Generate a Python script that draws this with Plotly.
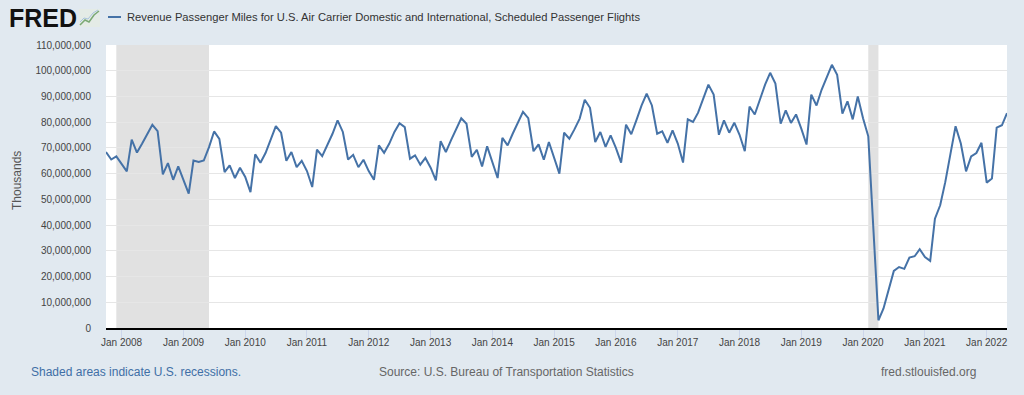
import pandas as pd
import plotly.graph_objects as go

# ---------------- data (monthly, Oct 2007 - May 2022), values in millions of "Thousands" units
start_month = "2007-10-01"
rpm_millions = [
    # 2007 Oct-Dec
    68.4, 65.5, 66.7,
    # 2008
    63.6, 60.9, 73.2, 68.2, 71.6, 75.2, 79.0, 76.5, 59.7, 64.1, 57.6, 62.8,
    # 2009
    57.6, 52.2, 65.1, 64.5, 65.1, 70.3, 76.4, 73.5, 60.6, 63.2, 58.3, 62.3,
    # 2010
    58.7, 52.8, 67.5, 64.2, 68.0, 73.5, 78.5, 75.9, 65.0, 68.4, 62.5, 65.0,
    # 2011
    61.0, 54.8, 69.3, 66.8, 71.0, 75.5, 80.7, 76.2, 65.5, 67.3, 62.5, 65.4,
    # 2012
    61.0, 57.6, 71.0, 68.1, 71.6, 76.2, 79.6, 78.1, 65.8, 67.1, 63.5, 66.1,
    # 2013
    62.3, 57.4, 72.6, 68.4, 72.9, 77.5, 81.5, 79.4, 66.5, 69.3, 62.8, 70.6,
    # 2014
    64.5, 58.3, 73.9, 71.0, 75.5, 79.7, 84.0, 81.6, 68.7, 71.4, 65.4, 72.3,
    # 2015
    66.0, 60.0, 75.9, 73.6, 77.2, 81.4, 88.7, 85.6, 72.3, 76.2, 70.4, 74.9,
    # 2016
    70.0, 64.3, 79.0, 75.3, 80.7, 86.5, 91.1, 86.5, 75.5, 76.4, 72.0, 76.8,
    # 2017
    71.7, 64.3, 81.1, 80.1, 83.7, 89.0, 94.6, 90.7, 75.1, 80.7, 75.9, 79.8,
    # 2018
    75.1, 68.7, 86.1, 83.0, 88.5, 94.6, 99.2, 95.0, 79.4, 84.6, 79.7, 83.0,
    # 2019
    77.5, 71.3, 90.7, 86.5, 92.6, 97.8, 102.3, 98.4, 83.3, 88.1, 81.1, 90.0,
    # 2020
    81.5, 74.5, 40.0, 3.0, 7.6, 14.7, 22.2, 23.7, 23.0, 27.4, 27.9, 30.6,
    # 2021
    27.6, 26.1, 42.5, 47.7, 56.7, 67.8, 78.4, 71.7, 60.9, 66.7, 68.0, 72.0,
    # 2022 Jan-May
    56.5, 58.1, 77.9, 78.8, 83.5,
]
rpm_thousands = [v * 1_000_000 for v in rpm_millions]
dates = pd.date_range(start_month, periods=len(rpm_millions), freq="MS")

recession_starts = ["2007-12-01", "2020-02-01"]
recession_ends = ["2009-06-01", "2020-04-01"]

tick_years = list(range(2008, 2023))
tick_dates = [f"{y}-01-01" for y in tick_years]
tick_labels = [f"Jan {y}" for y in tick_years]

series_name = ("Revenue Passenger Miles for U.S. Air Carrier Domestic and "
               "International, Scheduled Passenger Flights")

# ---------------- layout geometry helpers (pixel -> paper)
W, H = 1024, 395
L, R, T, B = 106, 17, 45, 67
PW, PH = W - L - R, H - T - B


def px(x):
    return (x - L) / PW


def py(y):
    return (H - B - y) / PH


FONT = "Liberation Sans, Arial, sans-serif"
LINE_COLOR = "#4572a7"

fig = go.Figure()
fig.add_trace(go.Scatter(
    x=dates, y=rpm_thousands, mode="lines",
    line=dict(color=LINE_COLOR, width=2),
    name=series_name, showlegend=False,
))

shapes = []
for s, e in zip(recession_starts, recession_ends):
    shapes.append(dict(type="rect", xref="x", yref="paper", x0=s, x1=e, y0=0, y1=1,
                       fillcolor="#e1e1e1", line=dict(width=0), layer="below"))

# legend dash
shapes.append(dict(type="line", xref="paper", yref="paper",
                   x0=px(108), x1=px(121), y0=py(17), y1=py(17),
                   line=dict(color=LINE_COLOR, width=2)))
# little FRED chart icon
shapes.append(dict(type="rect", xref="paper", yref="paper",
                   x0=px(79), x1=px(100), y0=py(27), y1=py(9),
                   fillcolor="#e4ebe6", line=dict(width=0)))
shapes.append(dict(type="path", xref="paper", yref="paper",
                   path=(f"M {px(80)} {py(25)} L {px(85)} {py(20)} L {px(89)} {py(22)} "
                         f"L {px(94)} {py(15)} L {px(99)} {py(11)}"),
                   line=dict(color="#7aa874", width=1.5)))
shapes.append(dict(type="path", xref="paper", yref="paper",
                   path=(f"M {px(80)} {py(22)} L {px(84)} {py(18)} L {px(88)} {py(19)} "
                         f"L {px(93)} {py(13)} L {px(98)} {py(10)}"),
                   line=dict(color="#a9c4dd", width=1)))

annotations = [
    dict(text="<b>FRED</b>", x=px(7), y=py(18), xref="paper", yref="paper",
         xanchor="left", yanchor="middle", showarrow=False,
         font=dict(family=FONT, size=25, color="#111111")),
    dict(text=series_name, x=px(125), y=py(17), xref="paper", yref="paper",
         xanchor="left", yanchor="middle", showarrow=False,
         font=dict(family=FONT, size=11.2, color="#333333")),
    dict(text="Thousands", x=px(17), y=py(181), xref="paper", yref="paper",
         xanchor="center", yanchor="middle", textangle=-90, showarrow=False,
         font=dict(family=FONT, size=12, color="#555555")),
    dict(text="Shaded areas indicate U.S. recessions.", x=px(29), y=py(372),
         xref="paper", yref="paper", xanchor="left", yanchor="middle", showarrow=False,
         font=dict(family=FONT, size=12, color="#3f6fa6")),
    dict(text="Source: U.S. Bureau of Transportation Statistics", x=px(377), y=py(372),
         xref="paper", yref="paper", xanchor="left", yanchor="middle", showarrow=False,
         font=dict(family=FONT, size=12, color="#666666")),
    dict(text="fred.stlouisfed.org", x=px(978), y=py(372),
         xref="paper", yref="paper", xanchor="right", yanchor="middle", showarrow=False,
         font=dict(family=FONT, size=12, color="#666666")),
]

fig.update_layout(
    width=W, height=H,
    margin=dict(l=L, r=R, t=T, b=B, autoexpand=False),
    paper_bgcolor="#e1e9f0", plot_bgcolor="#ffffff",
    font=dict(family=FONT, size=10, color="#444444"),
    shapes=shapes, annotations=annotations,
    showlegend=False,
    xaxis=dict(
        type="date", range=[start_month, "2022-05-01"],
        tickmode="array", tickvals=tick_dates, ticktext=tick_labels,
        showgrid=False, zeroline=False,
        ticks="outside", ticklen=8, tickcolor="#ccd6eb", tickwidth=1,
        showline=True, linecolor="#000000", linewidth=2,
        ticklabelstandoff=-4,
        tickfont=dict(family=FONT, size=10, color="#444444"),
        fixedrange=True,
    ),
    yaxis=dict(
        range=[0, 110_000_000], dtick=10_000_000, tick0=0,
        tickformat=",", showgrid=True, gridcolor="#e6e6e6", gridwidth=1,
        zeroline=False, showline=False, ticks="",
        ticklabelstandoff=14,
        tickfont=dict(family=FONT, size=10, color="#444444"),
        fixedrange=True,
    ),
)

fig.write_html(
    "out.html",
    config={"displayModeBar": False},
    post_script="document.body.style.margin='0';document.body.style.background='#e1e9f0';",
)
